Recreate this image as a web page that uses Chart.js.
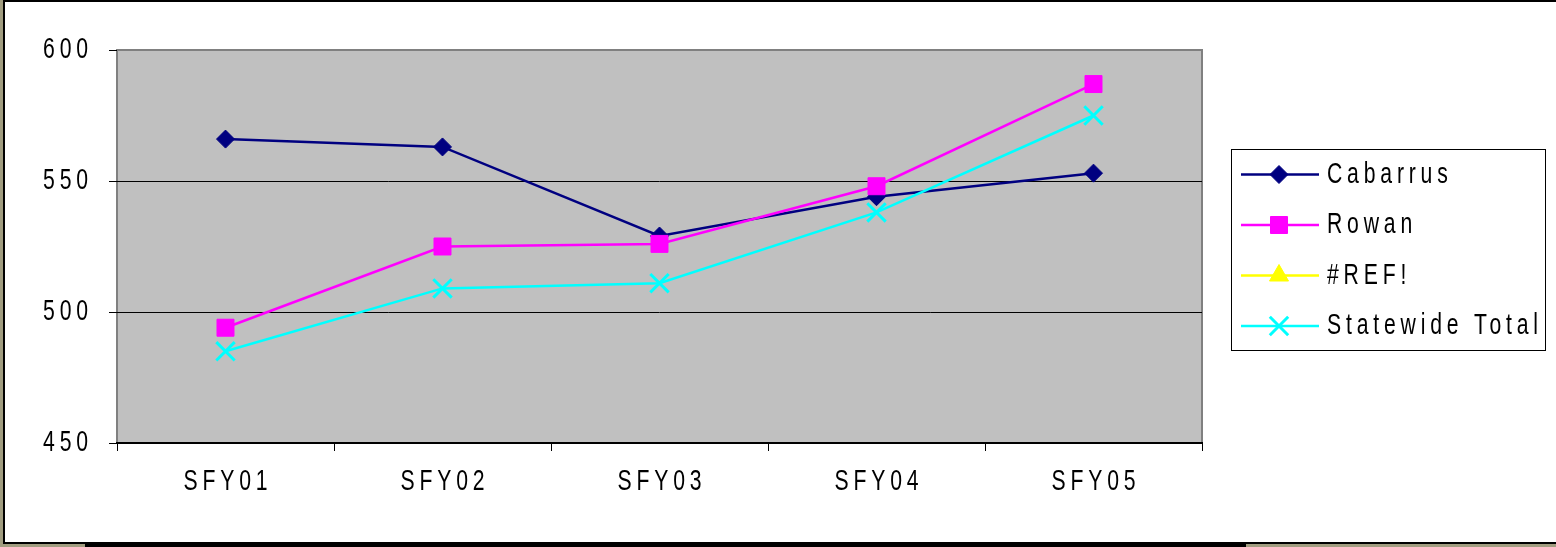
<!DOCTYPE html>
<html>
<head>
<meta charset="utf-8">
<title>SFY01 - SFY05</title>
<script src="https://cdn.jsdelivr.net/npm/chart.js@4/dist/chart.umd.min.js"></script>
<style>
  html, body { margin: 0; padding: 0; }
  body { background: #a19d80; width: 1556px; height: 547px; position: relative; overflow: hidden; }
  #frame {
    position: absolute; left: 3px; top: 0; width: 1553px; height: 540px; background: #fff;
    border-left: 2px solid #000; border-top: 2px solid #000; border-bottom: 2px solid #000;
  }
  #shade { position: absolute; left: 85px; top: 544px; width: 1161px; height: 3px; background: #000; }
  canvas { display: block; }
</style>
</head>
<body>
<div id="frame"><canvas id="chart" width="1551" height="540"></canvas></div>
<div id="shade"></div>
<script>
// categories and series
var years = ["SFY01", "SFY02", "SFY03", "SFY04", "SFY05"];
var cabarrus = [566, 563, 529, 544, 553];
var rowan = [494, 525, 526, 548, 587];
var refSeries = [null, null, null, null, null];
var statewide = [485, 509, 511, 538, 575];

// value axis
var yMin = 450;
var yMax = 600;
var yStep = 50;

// squeezed, spaced-out lettering for every label on the canvas
var TEXT_SCALE_X = 0.73;
var TEXT_SPACING = 6.6;

var narrowText = {
  id: "narrowText",
  beforeInit: function (chart) {
    var ctx = chart.ctx;
    var fill = ctx.fillText;
    ctx.fillText = function (text, x, y) {
      // letterSpacing also pads after the last glyph, push it back
      var shift = 0;
      if (this.textAlign === "right" || this.textAlign === "end") shift = TEXT_SPACING * TEXT_SCALE_X;
      else if (this.textAlign === "center") shift = TEXT_SPACING * TEXT_SCALE_X / 2;
      this.save();
      this.letterSpacing = TEXT_SPACING + "px";
      this.translate(x + shift, y);
      this.scale(TEXT_SCALE_X, 1);
      fill.call(this, text, 0, 0);
      this.restore();
    };
  }
};

// grey plot area with a darker frame
var plotBackground = {
  id: "plotBackground",
  beforeDraw: function (chart) {
    var ctx = chart.ctx;
    var a = chart.chartArea;
    ctx.save();
    ctx.fillStyle = "#c0c0c0";
    ctx.fillRect(a.left, a.top, a.right - a.left, a.bottom - a.top);
    ctx.strokeStyle = "#808080";
    ctx.lineWidth = 2;
    ctx.strokeRect(a.left, a.top, a.right - a.left, a.bottom - a.top);
    ctx.restore();
  }
};

// boxed legend: line + marker + name per series
var boxLegend = {
  id: "boxLegend",
  afterDraw: function (chart) {
    var ctx = chart.ctx;
    var a = chart.chartArea;
    var width = 314, height = 201;
    var left = a.right + 29;
    var top = (a.top + a.bottom) / 2 - height / 2 + 3;
    ctx.save();
    ctx.strokeStyle = "#000";
    ctx.lineWidth = 1;
    ctx.strokeRect(left + 0.5, top + 0.5, width, height);
    chart.data.datasets.forEach(function (ds, i) {
      var y = top + 25.5 + i * 50.5;
      ctx.strokeStyle = ds.borderColor;
      ctx.lineWidth = ds.borderWidth;
      ctx.beginPath();
      ctx.moveTo(left + 10, y);
      ctx.lineTo(left + 88, y);
      ctx.stroke();
      ctx.fillStyle = ds.pointBackgroundColor;
      ctx.strokeStyle = ds.pointBorderColor;
      ctx.lineWidth = ds.pointBorderWidth;
      Chart.helpers.drawPoint(ctx, {
        pointStyle: ds.pointStyle,
        radius: ds.pointRadius,
        borderWidth: ds.pointBorderWidth,
        rotation: 0
      }, left + 48, y);
      ctx.fillStyle = "#000";
      ctx.font = "29px 'Liberation Sans', Arial, sans-serif";
      ctx.textAlign = "left";
      ctx.textBaseline = "middle";
      ctx.fillText(ds.label, left + 96, y);
    });
    ctx.restore();
  }
};

Chart.defaults.font.family = "'Liberation Sans', Arial, sans-serif";
Chart.defaults.font.size = 29;
Chart.defaults.color = "#000";

var ctx = document.getElementById("chart").getContext("2d");
var chart = new Chart(ctx, {
  type: "line",
  data: {
    labels: years,
    datasets: [
      {
        label: "Cabarrus",
        data: cabarrus,
        borderColor: "#000080",
        borderWidth: 2.5,
        pointStyle: "rectRot",
        pointRadius: 9,
        pointBackgroundColor: "#000080",
        pointBorderColor: "#000080",
        pointBorderWidth: 1,
        order: 4
      },
      {
        label: "Rowan",
        data: rowan,
        borderColor: "#ff00ff",
        borderWidth: 2.5,
        pointStyle: "rect",
        pointRadius: 12,
        pointBackgroundColor: "#ff00ff",
        pointBorderColor: "#ff00ff",
        pointBorderWidth: 1,
        order: 3
      },
      {
        label: "#REF!",
        data: refSeries,
        borderColor: "#ffff00",
        borderWidth: 2.5,
        pointStyle: "triangle",
        pointRadius: 11,
        pointBackgroundColor: "#ffff00",
        pointBorderColor: "#ffff00",
        pointBorderWidth: 1,
        order: 2
      },
      {
        label: "Statewide Total",
        data: statewide,
        borderColor: "#00ffff",
        borderWidth: 2.5,
        pointStyle: "crossRot",
        pointRadius: 13,
        pointBackgroundColor: "#00ffff",
        pointBorderColor: "#00ffff",
        pointBorderWidth: 3,
        order: 1
      }
    ]
  },
  options: {
    responsive: false,
    animation: false,
    events: [],
    layout: { padding: { top: 48, right: 354, left: 0, bottom: 0 } },
    plugins: {
      legend: { display: false },
      tooltip: { enabled: false }
    },
    elements: { line: { tension: 0 } },
    scales: {
      x: {
        offset: true,
        grid: {
          offset: true,
          drawOnChartArea: false,
          tickLength: 8,
          tickColor: "#000"
        },
        border: { color: "#000", width: 2 },
        ticks: { padding: 14, maxRotation: 0 },
        afterFit: function (scale) { scale.height = 99; }
      },
      y: {
        min: yMin,
        max: yMax,
        grid: {
          color: function (c) {
            var v = c.tick && c.tick.value;
            return v > yMin && v < yMax ? "#000" : "rgba(0,0,0,0)";
          },
          lineWidth: 1,
          tickLength: 8,
          tickColor: "#000"
        },
        border: { display: false },
        ticks: { stepSize: yStep, padding: 21 },
        afterFit: function (scale) { scale.width = 112; }
      }
    }
  },
  plugins: [narrowText, plotBackground, boxLegend]
});
</script>
</body>
</html>
